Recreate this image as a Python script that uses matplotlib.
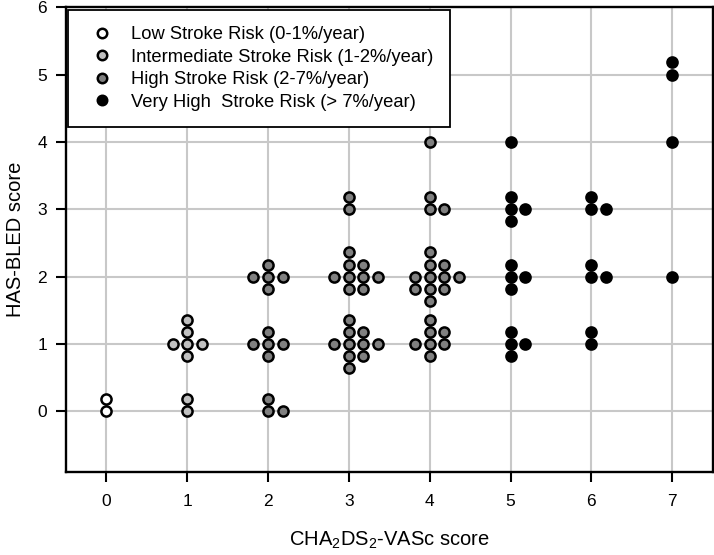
import matplotlib
matplotlib.use("Agg")
import matplotlib.pyplot as plt
from matplotlib.lines import Line2D

plt.rcParams['font.family'] = ['Liberation Sans', 'DejaVu Sans']
plt.rcParams['mathtext.default'] = 'regular'

# Stroke risk groups (CHA2DS2-VASc, HAS-BLED)
low_x = [0, 0]
low_y = [0, 0.18]

inter_x = [1, 1, 1, 1, 1, 1, 0.82, 1.18]
inter_y = [0, 0.18, 0.82, 1, 1.18, 1.36, 1, 1]

high_x = [2, 2, 2.18,
          2, 2, 2, 1.82, 2.18,
          2, 2, 2, 1.82, 2.18,
          3, 3, 3, 3, 3, 3.18, 3.18, 3.18, 2.82, 3.36,
          3, 3, 3, 3, 3.18, 3.18, 3.18, 2.82, 3.36,
          3, 3,
          4, 4, 4, 4, 4.18, 4.18, 3.82,
          4, 4, 4, 4, 4, 4.18, 4.18, 4.18, 3.82, 3.82, 4.36,
          4, 4, 4.18,
          4]
high_y = [0, 0.18, 0,
          0.82, 1, 1.18, 1, 1,
          1.82, 2, 2.18, 2, 2,
          0.64, 0.82, 1, 1.18, 1.36, 0.82, 1, 1.18, 1, 1,
          1.82, 2, 2.18, 2.36, 1.82, 2, 2.18, 2, 2,
          3, 3.18,
          0.82, 1, 1.18, 1.36, 1, 1.18, 1,
          1.64, 1.82, 2, 2.18, 2.36, 1.82, 2, 2.18, 1.82, 2, 2,
          3, 3.18, 3,
          4]

vhigh_x = [5, 5, 5, 5, 5.18, 5, 5, 5, 5.18, 5, 5, 5, 5.18,
           6, 6, 6.18, 6, 6, 6.18, 6, 6,
           7, 7, 7, 7]
vhigh_y = [4, 2.82, 3, 3.18, 3, 1.82, 2, 2.18, 2, 0.82, 1, 1.18, 1,
           3, 3.18, 3, 2, 2.18, 2, 1, 1.18,
           2, 4, 5, 5.18]

labels = ['Low Stroke Risk (0-1%/year)',
          'Intermediate Stroke Risk (1-2%/year)',
          'High Stroke Risk (2-7%/year)',
          'Very High  Stroke Risk (> 7%/year)']
colors = ['white', '#c0c0c0', '#808080', 'black']
x_ticks = [0, 1, 2, 3, 4, 5, 6, 7]
y_ticks = [0, 1, 2, 3, 4, 5, 6]

fig = plt.figure(figsize=(7.14, 5.55), dpi=100)
ax = fig.add_axes([0.0924, 0.1495, 0.9056, 0.8375])

groups = [(low_x, low_y), (inter_x, inter_y), (high_x, high_y), (vhigh_x, vhigh_y)]
for (gx, gy), c in zip(groups, colors):
    ax.plot(gx, gy, linestyle='none', marker='o', markersize=7.3,
            markerfacecolor=c, markeredgecolor='black', markeredgewidth=1.8, zorder=3)

ax.set_xlim(-0.5, 7.5)
ax.set_ylim(-0.9, 6)
ax.set_xticks(x_ticks)
ax.set_yticks(y_ticks)
ax.set_axisbelow(True)
ax.grid(True, color='#c8c8c8', linewidth=1.5)

for s in ax.spines.values():
    s.set_linewidth(1.7)
ax.tick_params(axis='both', direction='out', length=7.5, width=1.5, labelsize=12.5)
ax.tick_params(axis='x', pad=8)
ax.tick_params(axis='y', pad=6)

ax.set_xlabel('CHA$_2$DS$_2$-VASc score', fontsize=14.5, labelpad=15)
ax.set_ylabel('HAS-BLED score', fontsize=14.5, labelpad=9)

handles = [Line2D([], [], linestyle='none', marker='o', markersize=6.8,
                  markerfacecolor=c, markeredgecolor='black', markeredgewidth=1.8)
           for c in colors]
leg = ax.legend(handles, labels, loc='upper left', bbox_to_anchor=(0.003, 0.995),
                borderaxespad=0, fontsize=13.2, frameon=True, fancybox=False,
                borderpad=0.9, handlelength=1.9, handletextpad=0.65, labelspacing=0.3)
leg.get_frame().set_edgecolor('black')
leg.get_frame().set_linewidth(1.3)
leg.get_frame().set_alpha(1)

fig.savefig('out.png', dpi=100)
